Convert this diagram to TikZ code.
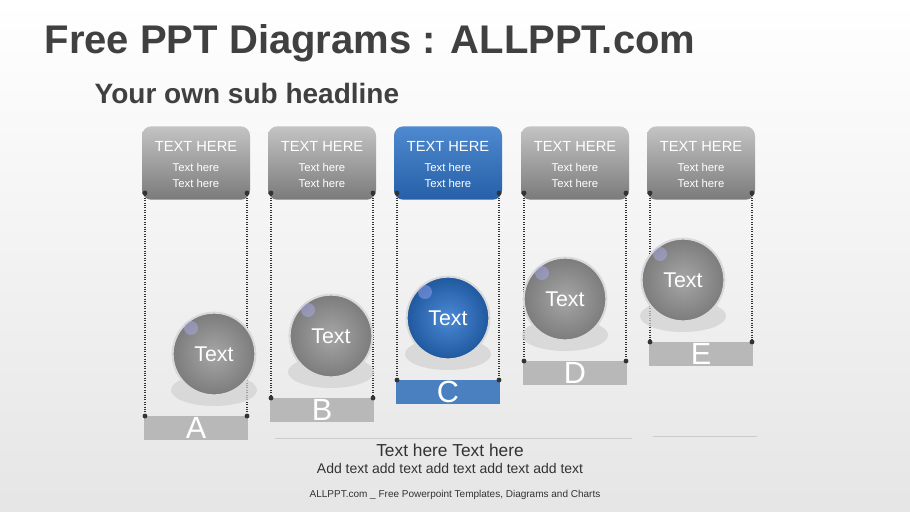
\documentclass[tikz,border=0pt]{standalone}
\usepackage{fontspec}
\setmainfont{Liberation Sans}
\usetikzlibrary{positioning}
\definecolor{titlegray}{HTML}{404040}
\definecolor{bargray}{HTML}{B8B8B8}
\definecolor{headtop}{HTML}{C4C4C4}
\definecolor{headbot}{HTML}{7A7A7A}
\definecolor{bluetop}{HTML}{4F8AD0}
\definecolor{bluebot}{HTML}{2560A8}
\definecolor{barblue}{HTML}{4A80C0}
\definecolor{grayin}{HTML}{A6A6A6}
\definecolor{grayout}{HTML}{7C7C7C}
\definecolor{bluein}{HTML}{4C8AD6}
\definecolor{blueout}{HTML}{1F589E}
\begin{document}
\begin{tikzpicture}[x=0.75pt,y=-0.75pt]
    % Styles
    \tikzset{
        headbox/.style={rounded corners=7pt, minimum width=81pt, minimum height=55pt, inner sep=0pt},
        barbox/.style={fill=#1, minimum width=78pt, minimum height=18pt, inner sep=0pt, text=white, font=\fontsize{23}{23}\selectfont},
        guide/.style={densely dotted, thick, black!80},
        pin/.style={circle, fill=black!80, inner sep=1.3pt},
        globe/.style={circle, minimum size=62pt, inner sep=0pt, draw=white!85!black, line width=1.5pt, text=white, font=\fontsize{16}{16}\selectfont}
    }

    % Background
    \shade[top color=white, bottom color=black!10] (0,0) rectangle (910,511);
    \useasboundingbox (0,0) rectangle (910,511);

    % Titles
    \node[anchor=west, text=titlegray, font=\bfseries\fontsize{30}{30}\selectfont] (title) at (40,43) {Free PPT Diagrams : ALLPPT.com};
    \node[anchor=west, text=titlegray, font=\bfseries\fontsize{21}{21}\selectfont] (sub) at (90,93) {Your own sub headline};

    % Columns
    \foreach \n/\cx/\yb/\dx/\l/\ctop/\cbot/\cbar/\cin/\cout in {a/196/428/18/A/headtop/headbot/bargray/grayin/grayout, b/322/410/9/B/headtop/headbot/bargray/grayin/grayout, c/448/392/0/C/bluetop/bluebot/barblue/bluein/blueout, d/575/373/-10/D/headtop/headbot/bargray/grayin/grayout, e/701/354/-18/E/headtop/headbot/bargray/grayin/grayout}{
        \node[headbox, top color=\ctop, bottom color=\cbot] (head-\n) at (\cx,163) {};
        \node[align=center, text=white, inner sep=0pt] (txt-\n) at (\cx,165) {\fontsize{11}{12}\selectfont TEXT HERE\\[3pt]\fontsize{8.5}{10.5}\selectfont Text here\\\fontsize{8.5}{10.5}\selectfont Text here};
        \node[barbox=\cbar] (bar-\n) at (\cx,\yb) {\raisebox{-3pt}{\l}};
        \coordinate (tl-\n) at (\cx-51,193);
        \coordinate (tr-\n) at (\cx+51,193);
        \coordinate (bl-\n) at (\cx-51,\yb-12);
        \coordinate (br-\n) at (\cx+51,\yb-12);
        \draw[guide] (tl-\n) -- (bl-\n);
        \draw[guide] (tr-\n) -- (br-\n);
        \foreach \p in {tl,tr,bl,br}
            \node[pin] at (\p-\n) {};
        \fill[black!18, opacity=0.7] (\cx+\dx,\yb-38) ellipse (43 and 16);
        \node[globe, inner color=\cin, outer color=\cout] (ball-\n) at (\cx+\dx,\yb-74) {Text};
        \fill[white!70!blue, opacity=0.4] (\cx+\dx-23,\yb-100) circle (7);
    }

    % Bottom rules
    \draw[black!20] (275,438) -- (632,438);
    \draw[black!20] (653,436) -- (757,436);

    % Bottom texts
    \node[text=black!80, font=\fontsize{13}{13}\selectfont] (main) at (450,450) {Text here Text here};
    \node[text=black!80, font=\fontsize{10.5}{10.5}\selectfont] (add) at (450,468) {Add text add text add text add text add text};
    \node[text=black!80, font=\fontsize{7.5}{7.5}\selectfont] (foot) at (455,495) {ALLPPT.com \_ Free Powerpoint Templates, Diagrams and Charts};
\end{tikzpicture}
\end{document}
